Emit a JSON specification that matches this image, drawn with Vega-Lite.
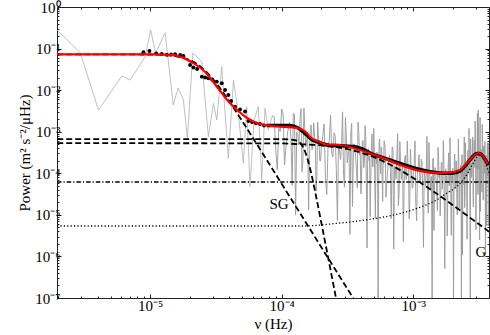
{
"$schema": "https://vega.github.io/schema/vega-lite/v6.json",
"width": 432, "height": 291,
"autosize": {"type": "none"},
"padding": {"left": 57, "top": 7, "right": 1, "bottom": 37},
"background": "white",
"config": {"view": {"stroke": "#222222", "strokeWidth": 1}, "font": "Liberation Serif"},
"datasets": {
"graylow": [
{"nu":1.96e-6,"p":0.28},{"nu":2.94e-6,"p":0.080},{"nu":4.05e-6,"p":3.33e-3},{"nu":6.10e-6,"p":0.0219},{"nu":7.05e-6,"p":0.0175},{"nu":9.16e-6,"p":0.0627},{"nu":1.01e-5,"p":0.28},{"nu":1.10e-5,"p":0.078},{"nu":1.30e-5,"p":0.241},{"nu":1.50e-5,"p":4.39e-3},{"nu":1.63e-5,"p":0.0113},{"nu":1.79e-5,"p":5.8e-3},{"nu":1.92e-5,"p":6.9e-4},{"nu":2.11e-5,"p":0.078},{"nu":2.47e-5,"p":0.0483},{"nu":2.77e-5,"p":7.6e-4},{"nu":3.03e-5,"p":4.8e-3},{"nu":3.21e-5,"p":1.91e-3},{"nu":3.50e-5,"p":0.0366},{"nu":3.93e-5,"p":2.29e-4},{"nu":4.30e-5,"p":0.0175},{"nu":4.68e-5,"p":2.77e-3},{"nu":5.11e-5,"p":1.74e-4},{"nu":5.42e-5,"p":4.0e-3},{"nu":5.74e-5,"p":4.75e-5},{"nu":6.16e-5,"p":1.91e-3},{"nu":6.64e-5,"p":4.0e-3},{"nu":7.05e-5,"p":6.9e-5},{"nu":7.46e-5,"p":3.66e-3},{"nu":7.91e-5,"p":1.1e-3},{"nu":8.5e-5,"p":2.43e-3}
],
"gray": [
{"nu":8.5e-5,"p":2.43e-3},{"nu":9.0e-5,"p":4.05e-4},{"nu":9.5e-5,"p":1.22e-3},{"nu":1.0e-4,"p":3.51e-3},{"nu":1.05e-4,"p":1.6e-4},{"nu":1.1e-4,"p":7.8e-4},{"nu":1.15e-4,"p":1.66e-3},{"nu":1.2e-4,"p":5.1e-5},{"nu":1.25e-4,"p":2.63e-3},{"nu":1.3e-4,"p":9.8e-4},{"nu":1.35e-4,"p":4.8e-4},{"nu":1.4e-4,"p":3.58e-3},{"nu":1.45e-4,"p":2.1e-4},{"nu":1.5e-4,"p":1.1e-3},{"nu":1.55e-4,"p":6.5e-4},{"nu":1.6e-4,"p":1.3e-5},{"nu":1.65e-4,"p":1.28e-3},{"nu":1.7e-4,"p":3.7e-4},{"nu":1.75e-4,"p":1.63e-3},{"nu":1.8e-4,"p":5.7e-4},{"nu":1.85e-4,"p":9.0e-5},{"nu":1.9e-4,"p":8.1e-4},{"nu":1.95e-4,"p":2.0e-4},{"nu":2.0e-4,"p":4.4e-4},
{"nu":2.1e-4,"p":1.54e-3},{"nu":2.2e-4,"p":3.1e-5},{"nu":2.3e-4,"p":6.1e-4},{"nu":2.4e-4,"p":3.0e-4},{"nu":2.5e-4,"p":9.4e-4},{"nu":2.6e-4,"p":1.23e-4},{"nu":2.7e-4,"p":4.6e-4},{"nu":2.8e-4,"p":2.16e-4},{"nu":2.9e-4,"p":3.0e-3},{"nu":3.0e-4,"p":4.6e-5},{"nu":3.1e-4,"p":6.75e-4},{"nu":3.2e-4,"p":3.1e-4},{"nu":3.3e-4,"p":3.4e-6},{"nu":3.4e-4,"p":1.6e-3},{"nu":3.5e-4,"p":2.2e-4},{"nu":3.6e-4,"p":3.9e-4},{"nu":3.7e-4,"p":1.14e-4},{"nu":3.8e-4,"p":1.7e-3},{"nu":3.9e-4,"p":2.74e-4},{"nu":4.0e-4,"p":3.2e-5},{"nu":4.1e-4,"p":5.95e-4},{"nu":4.2e-4,"p":1.36e-4},{"nu":4.3e-4,"p":1.4e-3},{"nu":4.4e-4,"p":5.9e-5},{"nu":4.5e-4,"p":3.36e-4},{"nu":4.6e-4,"p":2.0e-4},{"nu":4.7e-4,"p":9e-6},{"nu":4.8e-4,"p":4.0e-4},{"nu":4.9e-4,"p":1.45e-4},{"nu":5.0e-4,"p":1.2e-3},{"nu":5.1e-4,"p":6.0e-5},{"nu":5.2e-4,"p":2.3e-4},{"nu":5.3e-4,"p":3.25e-4},{"nu":5.4e-4,"p":8e-8},{"nu":5.5e-4,"p":5.75e-4},{"nu":5.6e-4,"p":1.47e-4},{"nu":5.7e-4,"p":4.3e-4},{"nu":5.8e-4,"p":7.0e-5},{"nu":5.9e-4,"p":2.07e-4},{"nu":6.0e-4,"p":6.0e-4},
{"nu":6.2e-4,"p":2.64e-5},{"nu":6.4e-4,"p":1.29e-4},{"nu":6.6e-4,"p":2.73e-4},{"nu":6.8e-4,"p":8.0e-6},{"nu":7.0e-4,"p":4.0e-4},{"nu":7.2e-4,"p":1.48e-4},{"nu":7.4e-4,"p":7.2e-5},{"nu":7.6e-4,"p":9.0e-4},{"nu":7.8e-4,"p":3.3e-5},{"nu":8.0e-4,"p":1.76e-4},{"nu":8.2e-4,"p":1.09e-4},{"nu":8.4e-4,"p":2.25e-6},{"nu":8.6e-4,"p":2.32e-4},{"nu":8.8e-4,"p":7.1e-5},{"nu":9.0e-4,"p":6.0e-4},{"nu":9.2e-4,"p":1.22e-4},{"nu":9.4e-4,"p":2.0e-5},{"nu":9.6e-4,"p":1.82e-4},{"nu":9.8e-4,"p":4.4e-5},{"nu":1.0e-3,"p":1.0e-4},
{"nu":1.03e-3,"p":6.0e-4},{"nu":1.06e-3,"p":7.2e-6},{"nu":1.09e-3,"p":1.44e-4},{"nu":1.12e-3,"p":6.9e-5},{"nu":1.15e-3,"p":2.19e-4},{"nu":1.18e-3,"p":2.75e-5},{"nu":1.21e-3,"p":1.05e-4},{"nu":1.24e-3,"p":4.95e-5},{"nu":1.27e-3,"p":7.7e-4},{"nu":1.30e-3,"p":1.1e-5},{"nu":1.33e-3,"p":1.58e-4},{"nu":1.36e-3,"p":7.35e-5},{"nu":1.39e-3,"p":8e-8},{"nu":1.42e-3,"p":2.31e-4},{"nu":1.45e-3,"p":5.8e-5},{"nu":1.48e-3,"p":1.05e-4},{"nu":1.51e-3,"p":3.15e-5},{"nu":1.54e-3,"p":4.2e-4},{"nu":1.57e-3,"p":7.9e-5},{"nu":1.60e-3,"p":9.5e-6},{"nu":1.63e-3,"p":1.73e-4},{"nu":1.66e-3,"p":4.1e-5},{"nu":1.69e-3,"p":6.1e-4},{"nu":1.72e-3,"p":1.84e-5},{"nu":1.75e-3,"p":1.07e-4},{"nu":1.78e-3,"p":6.6e-5},{"nu":1.81e-3,"p":3.1e-6},{"nu":1.84e-3,"p":1.38e-4},{"nu":1.87e-3,"p":5.1e-5},{"nu":1.90e-3,"p":7.1e-4},{"nu":1.93e-3,"p":2.3e-5},{"nu":1.96e-3,"p":8.9e-5},{"nu":1.99e-3,"p":1.31e-4},{"nu":2.02e-3,"p":5e-8},{"nu":2.05e-3,"p":2.4e-4},{"nu":2.08e-3,"p":6.7e-5},{"nu":2.11e-3,"p":2.0e-4},{"nu":2.14e-3,"p":3.4e-5},{"nu":2.17e-3,"p":1.0e-4},{"nu":2.20e-3,"p":6.7e-4},{"nu":2.23e-3,"p":1.44e-5},{"nu":2.26e-3,"p":7.2e-5},{"nu":2.29e-3,"p":1.56e-4},{"nu":2.32e-3,"p":9e-8},{"nu":2.35e-3,"p":2.8e-4},{"nu":2.38e-3,"p":1.08e-4},{"nu":2.41e-3,"p":5.4e-5},{"nu":2.44e-3,"p":7.5e-4},{"nu":2.47e-3,"p":3.0e-5},{"nu":2.50e-3,"p":1.65e-4},{"nu":2.53e-3,"p":1.22e-4},{"nu":2.56e-3,"p":2.6e-6},{"nu":2.59e-3,"p":2.8e-4},{"nu":2.62e-3,"p":1.0e-4},{"nu":2.65e-3,"p":1.2e-3},{"nu":2.68e-3,"p":1.8e-4},{"nu":2.71e-3,"p":8e-8},{"nu":2.74e-3,"p":3.2e-4},{"nu":2.77e-3,"p":8.0e-5},{"nu":2.80e-3,"p":1.84e-4},{"nu":2.83e-3,"p":7.5e-4},{"nu":2.86e-3,"p":1.56e-5},{"nu":2.89e-3,"p":3.1e-4},{"nu":2.92e-3,"p":1.56e-4},{"nu":2.95e-3,"p":1.8e-3},{"nu":2.98e-3,"p":7.3e-5},{"nu":3.01e-3,"p":2.75e-4},{"nu":3.04e-3,"p":1.3e-4},{"nu":3.07e-3,"p":2.8e-3},{"nu":3.10e-3,"p":3.1e-5},{"nu":3.13e-3,"p":4.65e-4},{"nu":3.16e-3,"p":2.2e-4},{"nu":3.19e-3,"p":2.5e-6},{"nu":3.22e-3,"p":2.2e-3},{"nu":3.25e-3,"p":1.6e-4},{"nu":3.28e-3,"p":2.9e-4},{"nu":3.31e-3,"p":8.7e-5},{"nu":3.34e-3,"p":1.5e-3},{"nu":3.37e-3,"p":1.9e-4},{"nu":3.40e-3,"p":2.25e-5},{"nu":3.43e-3,"p":4.25e-4},{"nu":3.46e-3,"p":1.0e-4},{"nu":3.49e-3,"p":5.9e-4},{"nu":3.52e-3,"p":4.0e-5},{"nu":3.55e-3,"p":2.3e-4},{"nu":3.58e-3,"p":1.43e-4},{"nu":3.61e-3,"p":5.4e-6},{"nu":3.64e-3,"p":2.4e-4},{"nu":3.67e-3,"p":9.0e-5},{"nu":3.70e-3,"p":5.4e-4},{"nu":3.73e-3,"p":4.0e-5},{"nu":3.76e-3,"p":2.0e-4},
{"nu":8.75e-5,"p":2.3e-3},{"nu":9.25e-5,"p":1.2e-4},{"nu":9.75e-5,"p":1.01e-3},{"nu":1.025e-4,"p":2.68e-3},{"nu":1.075e-4,"p":4.0e-4},{"nu":1.125e-4,"p":1.29e-3},{"nu":1.175e-4,"p":7.0e-4},{"nu":1.225e-4,"p":2.77e-3},{"nu":1.275e-4,"p":9.9e-6},{"nu":1.325e-4,"p":8.5e-4},{"nu":1.375e-4,"p":1.74e-3},{"nu":1.425e-4,"p":1.09e-4},{"nu":1.475e-4,"p":3.7e-3},{"nu":1.525e-4,"p":4.3e-4},{"nu":1.575e-4,"p":8.6e-4},{"nu":1.625e-4,"p":2.1e-4},{"nu":1.675e-4,"p":1.46e-3},{"nu":1.725e-4,"p":4.3e-4},{"nu":1.775e-4,"p":7.8e-4},{"nu":1.825e-4,"p":3.7e-5},{"nu":1.875e-4,"p":1.71e-3},{"nu":1.925e-4,"p":4.6e-4},{"nu":1.975e-4,"p":2.0e-4},
{"nu":2.05e-4,"p":7.6e-4},{"nu":2.15e-4,"p":7.9e-5},{"nu":2.25e-4,"p":4.6e-4},{"nu":2.35e-4,"p":2.5e-3},{"nu":2.45e-4,"p":2.5e-4},{"nu":2.55e-4,"p":7.9e-4},{"nu":2.65e-4,"p":7.3e-6},{"nu":2.75e-4,"p":3.4e-4},{"nu":2.85e-4,"p":5.2e-4},{"nu":2.95e-4,"p":9.3e-5},{"nu":3.05e-4,"p":2.2e-3},{"nu":3.15e-4,"p":1.78e-4},{"nu":3.25e-4,"p":3.5e-4},{"nu":3.35e-4,"p":8.9e-4},{"nu":3.45e-4,"p":1.6e-5},{"nu":3.55e-4,"p":5.1e-4},{"nu":3.65e-4,"p":2.3e-4},{"nu":3.75e-4,"p":4.5e-5},{"nu":3.85e-4,"p":9.5e-4},{"nu":3.95e-4,"p":3.3e-4},{"nu":4.05e-4,"p":1.07e-4},{"nu":4.15e-4,"p":6.2e-4},{"nu":4.25e-4,"p":2.0e-4},{"nu":4.35e-4,"p":7.6e-4},{"nu":4.45e-4,"p":1.6e-6},{"nu":4.55e-4,"p":3.9e-4},{"nu":4.65e-4,"p":2.6e-4},{"nu":4.75e-4,"p":6.5e-5},{"nu":4.85e-4,"p":8.8e-4},{"nu":4.95e-4,"p":1.43e-4},{"nu":5.05e-4,"p":3.7e-4},{"nu":5.15e-4,"p":8.2e-6},{"nu":5.25e-4,"p":1.72e-4},{"nu":5.35e-4,"p":2.7e-4},{"nu":5.45e-4,"p":4.5e-5},{"nu":5.55e-4,"p":6.7e-4},{"nu":5.65e-4,"p":9.7e-5},{"nu":5.75e-4,"p":4.0e-4},{"nu":5.85e-4,"p":2.1e-5},{"nu":5.95e-4,"p":1.73e-4},
{"nu":6.1e-4,"p":4.5e-4},{"nu":6.3e-4,"p":6.5e-5},{"nu":6.5e-4,"p":2.12e-4},{"nu":6.7e-4,"p":1.13e-4},{"nu":6.9e-4,"p":4.3e-4},{"nu":7.1e-4,"p":1.5e-6},{"nu":7.3e-4,"p":1.27e-4},{"nu":7.5e-4,"p":2.6e-4},{"nu":7.7e-4,"p":1.67e-5},{"nu":7.9e-4,"p":5.8e-4},{"nu":8.1e-4,"p":7.1e-5},{"nu":8.3e-4,"p":1.44e-4},{"nu":8.5e-4,"p":3.7e-5},{"nu":8.7e-4,"p":2.7e-4},{"nu":8.9e-4,"p":8.5e-5},{"nu":9.1e-4,"p":1.64e-4},{"nu":9.3e-4,"p":8.0e-6},{"nu":9.5e-4,"p":3.8e-4},{"nu":9.7e-4,"p":1.02e-4},{"nu":9.9e-4,"p":4.4e-5},
{"nu":1.015e-3,"p":1.68e-4},{"nu":1.045e-3,"p":1.8e-5},{"nu":1.075e-3,"p":1.08e-4},{"nu":1.105e-3,"p":2.8e-4},{"nu":1.135e-3,"p":5.75e-5},{"nu":1.165e-3,"p":1.81e-4},{"nu":1.195e-3,"p":1.65e-6},{"nu":1.225e-3,"p":7.7e-5},{"nu":1.255e-3,"p":1.21e-4},{"nu":1.285e-3,"p":2.2e-5},{"nu":1.315e-3,"p":5.5e-4},{"nu":1.345e-3,"p":4.2e-5},{"nu":1.375e-3,"p":8.4e-5},{"nu":1.405e-3,"p":2.2e-4},{"nu":1.435e-3,"p":4.2e-6},{"nu":1.465e-3,"p":1.37e-4},{"nu":1.495e-3,"p":6.3e-5},{"nu":1.525e-3,"p":1.26e-5},{"nu":1.555e-3,"p":2.7e-4},{"nu":1.585e-3,"p":9.5e-5},{"nu":1.615e-3,"p":3.1e-5},{"nu":1.645e-3,"p":1.84e-4},{"nu":1.675e-3,"p":6.1e-5},{"nu":1.705e-3,"p":2.35e-4},{"nu":1.735e-3,"p":5.1e-7},{"nu":1.765e-3,"p":1.28e-4},{"nu":1.795e-3,"p":8.7e-5},{"nu":1.825e-3,"p":2.2e-5},{"nu":1.855e-3,"p":3.1e-4},{"nu":1.885e-3,"p":5.1e-5},{"nu":1.915e-3,"p":1.39e-4},{"nu":1.945e-3,"p":3.2e-6},{"nu":1.975e-3,"p":6.8e-5},{"nu":2.005e-3,"p":1.1e-4},{"nu":2.035e-3,"p":1.9e-5},{"nu":2.065e-3,"p":2.9e-4},{"nu":2.095e-3,"p":4.5e-5},{"nu":2.125e-3,"p":1.9e-4},{"nu":2.155e-3,"p":1.0e-5},{"nu":2.185e-3,"p":8.4e-5},{"nu":2.215e-3,"p":2.3e-4},{"nu":2.245e-3,"p":3.6e-5},{"nu":2.275e-3,"p":1.2e-4},{"nu":2.305e-3,"p":6.6e-5},{"nu":2.335e-3,"p":2.8e-4},{"nu":2.365e-3,"p":1.1e-6},{"nu":2.395e-3,"p":9.5e-5},{"nu":2.425e-3,"p":2.1e-4},{"nu":2.455e-3,"p":1.5e-5},{"nu":2.485e-3,"p":5.4e-4},{"nu":2.515e-3,"p":7.3e-5},{"nu":2.545e-3,"p":1.66e-4},{"nu":2.575e-3,"p":4.4e-5},{"nu":2.605e-3,"p":3.6e-4},{"nu":2.635e-3,"p":1.2e-4},{"nu":2.665e-3,"p":2.4e-4},{"nu":2.695e-3,"p":1.3e-5},{"nu":2.725e-3,"p":6.7e-4},{"nu":2.755e-3,"p":1.84e-4},{"nu":2.785e-3,"p":8.0e-5},{"nu":2.815e-3,"p":3.4e-4},{"nu":2.845e-3,"p":3.9e-5},{"nu":2.875e-3,"p":2.3e-4},{"nu":2.905e-3,"p":6.2e-4},{"nu":2.935e-3,"p":1.38e-4},{"nu":2.965e-3,"p":4.6e-4},{"nu":2.995e-3,"p":4.4e-6},{"nu":3.025e-3,"p":2.0e-4},{"nu":3.055e-3,"p":3.3e-4},{"nu":3.085e-3,"p":6.2e-5},{"nu":3.115e-3,"p":3.3e-3},{"nu":3.145e-3,"p":1.24e-4},{"nu":3.175e-3,"p":2.5e-4},{"nu":3.205e-3,"p":6.5e-4},{"nu":3.235e-3,"p":1.2e-5},{"nu":3.265e-3,"p":3.8e-4},{"nu":3.295e-3,"p":1.74e-4},{"nu":3.325e-3,"p":3.5e-5},{"nu":3.355e-3,"p":7.0e-4},{"nu":3.385e-3,"p":2.25e-4},{"nu":3.415e-3,"p":7.5e-5},{"nu":3.445e-3,"p":4.5e-4},{"nu":3.475e-3,"p":1.41e-4},{"nu":3.505e-3,"p":5.1e-4},{"nu":3.535e-3,"p":1.1e-6},{"nu":3.565e-3,"p":2.75e-4},{"nu":3.595e-3,"p":1.7e-4},{"nu":3.625e-3,"p":4.0e-5},{"nu":3.655e-3,"p":5.4e-4},{"nu":3.685e-3,"p":9.0e-5},{"nu":3.715e-3,"p":2.4e-4},{"nu":3.745e-3,"p":5.4e-6}
],
"white": [{"nu":1.96e-6,"p":6.2e-5},{"nu":3.76e-3,"p":6.2e-5}],
"dotted": [{"nu":1.96e-6,"p":5.39e-6},{"nu":1.451e-4,"p":5.39e-6},{"nu":2.63e-4,"p":6.26e-6},{"nu":4.682e-4,"p":7.81e-6},{"nu":8.34e-4,"p":1.126e-5},{"nu":1.122e-3,"p":1.519e-5},{"nu":1.503e-3,"p":2.28e-5},{"nu":1.79e-3,"p":3.3e-5},{"nu":2.133e-3,"p":4.75e-5},{"nu":2.54e-3,"p":9.09e-5},{"nu":2.85e-3,"p":1.74e-4},{"nu":3.149e-3,"p":2.68e-4},{"nu":3.378e-3,"p":2.46e-4},{"nu":3.622e-3,"p":1.42e-4},{"nu":3.782e-3,"p":9.61e-5}],
"sg": [{"nu":1.968e-6,"p":0.0728},{"nu":1e-5,"p":0.0720},{"nu":1.259e-5,"p":0.0702},{"nu":1.585e-5,"p":0.0652},{"nu":1.995e-5,"p":0.0529},{"nu":2.239e-5,"p":0.0435},{"nu":2.512e-5,"p":0.0330},{"nu":2.818e-5,"p":0.0231},{"nu":3.162e-5,"p":0.01498},{"nu":3.548e-5,"p":0.00919},{"nu":3.981e-5,"p":0.00543},{"nu":4.467e-5,"p":0.00314},{"nu":5.012e-5,"p":1.79e-3},{"nu":6.31e-5,"p":5.69e-4},{"nu":1e-4,"p":5.56e-5},{"nu":1.585e-4,"p":5.41e-6},{"nu":2.512e-4,"p":5.26e-7},{"nu":3.981e-4,"p":5.12e-8}],
"h1": [{"nu":1.968e-6,"p":6.6e-4},{"nu":1e-4,"p":6.6e-4},{"nu":1.259e-4,"p":6.27e-4},{"nu":1.334e-4,"p":5.81e-4},{"nu":1.413e-4,"p":4.90e-4},{"nu":1.496e-4,"p":3.49e-4},{"nu":1.585e-4,"p":2.01e-4},{"nu":1.679e-4,"p":9.67e-5},{"nu":1.778e-4,"p":4.15e-5},{"nu":1.995e-4,"p":6.71e-6},{"nu":2.239e-4,"p":1.04e-6},{"nu":2.512e-4,"p":1.59e-7},{"nu":2.818e-4,"p":2.43e-8}],
"g": [{"nu":1.968e-6,"p":5.3e-4},{"nu":1e-4,"p":5.24e-4},{"nu":1.259e-4,"p":5.07e-4},{"nu":1.995e-4,"p":4.67e-4},{"nu":3.162e-4,"p":3.80e-4},{"nu":5.012e-4,"p":2.45e-4},{"nu":6.31e-4,"p":1.77e-4},{"nu":7.943e-4,"p":1.19e-4},{"nu":1e-3,"p":7.67e-5},{"nu":1.259e-3,"p":4.75e-5},{"nu":1.585e-3,"p":2.88e-5},{"nu":1.995e-3,"p":1.71e-5},{"nu":2.512e-3,"p":1.01e-5},{"nu":3.162e-3,"p":5.93e-6},{"nu":3.802e-3,"p":3.86e-6}],
"dots": [{"nu":8.89e-6,"p":0.0813},{"nu":9.88e-6,"p":0.0874},{"nu":1.111e-5,"p":0.0769},{"nu":1.227e-5,"p":0.0740},{"nu":1.339e-5,"p":0.0712},{"nu":1.444e-5,"p":0.0720},{"nu":1.548e-5,"p":0.0728},{"nu":1.69e-5,"p":0.0700},{"nu":1.789e-5,"p":0.0663},{"nu":2.012e-5,"p":0.0402},{"nu":2.132e-5,"p":0.0350},{"nu":2.275e-5,"p":0.0323},{"nu":2.47e-5,"p":0.0211},{"nu":2.616e-5,"p":0.0201},{"nu":2.771e-5,"p":0.0193},{"nu":2.957e-5,"p":0.0180},{"nu":3.21e-5,"p":0.0160},{"nu":3.503e-5,"p":0.0146},{"nu":3.711e-5,"p":0.0101},{"nu":3.931e-5,"p":0.00764},{"nu":4.121e-5,"p":0.00548},{"nu":4.419e-5,"p":0.00400},{"nu":4.824e-5,"p":0.00342},{"nu":5.263e-5,"p":0.00306},{"nu":5.576e-5,"p":0.00181},{"nu":5.95e-5,"p":0.00171},{"nu":6.38e-5,"p":0.00159},{"nu":6.843e-5,"p":0.00153},{"nu":7.337e-5,"p":0.00141}],
"smooth": [{"nu":7.69e-5,"p":1.41e-3},{"nu":8.59e-5,"p":1.41e-3},{"nu":9.71e-5,"p":1.41e-3},{"nu":1.156e-4,"p":1.41e-3},{"nu":1.33e-4,"p":1.228e-3},{"nu":1.451e-4,"p":1.0e-3},{"nu":1.548e-4,"p":8.33e-4},{"nu":1.738e-4,"p":6.14e-4},{"nu":1.886e-4,"p":5.65e-4},{"nu":2.07e-4,"p":5.06e-4},{"nu":2.327e-4,"p":4.66e-4},{"nu":2.63e-4,"p":4.66e-4},{"nu":3.024e-4,"p":4.53e-4},{"nu":3.497e-4,"p":4.41e-4},{"nu":4.071e-4,"p":3.84e-4},{"nu":4.682e-4,"p":3.07e-4},{"nu":5.577e-4,"p":2.51e-4},{"nu":6.643e-4,"p":2.09e-4},{"nu":7.912e-4,"p":1.72e-4},{"nu":9.424e-4,"p":1.44e-4},{"nu":1.122e-3,"p":1.23e-4},{"nu":1.337e-3,"p":1.09e-4},{"nu":1.592e-3,"p":1.015e-4},{"nu":1.897e-3,"p":9.99e-5},{"nu":2.106e-3,"p":1.04e-4},{"nu":2.327e-3,"p":1.20e-4},{"nu":2.508e-3,"p":1.58e-4},{"nu":2.691e-3,"p":2.09e-4},{"nu":2.884e-3,"p":2.68e-4},{"nu":3.04e-3,"p":2.99e-4},{"nu":3.204e-3,"p":2.99e-4},{"nu":3.395e-3,"p":2.51e-4},{"nu":3.557e-3,"p":2.03e-4},{"nu":3.716e-3,"p":1.58e-4}],
"red": [{"nu":1.96e-6,"p":0.0728},{"nu":4.17e-6,"p":0.0728},{"nu":1.0e-5,"p":0.0722},{"nu":1.42e-5,"p":0.0705},{"nu":1.69e-5,"p":0.0640},{"nu":2.12e-5,"p":0.0450},{"nu":2.62e-5,"p":0.0273},{"nu":3.23e-5,"p":0.0119},{"nu":3.85e-5,"p":0.00579},{"nu":4.58e-5,"p":0.00333},{"nu":5.46e-5,"p":0.00214},{"nu":6.49e-5,"p":0.00162},{"nu":8.59e-5,"p":0.00137},{"nu":1.306e-4,"p":0.00123},{"nu":1.556e-4,"p":9.31e-4},{"nu":1.64e-4,"p":7.46e-4},{"nu":1.954e-4,"p":5.65e-4},{"nu":2.17e-4,"p":4.92e-4},{"nu":2.77e-4,"p":4.79e-4},{"nu":3.94e-4,"p":3.63e-4},{"nu":5.87e-4,"p":2.33e-4},{"nu":8.34e-4,"p":1.50e-4},{"nu":1.268e-3,"p":1.07e-4},{"nu":1.80e-3,"p":1.02e-4},{"nu":2.26e-3,"p":1.20e-4},{"nu":2.55e-3,"p":1.77e-4},{"nu":3.15e-3,"p":3.08e-4},{"nu":3.68e-3,"p":1.67e-4}],
"labels": [{"nu":9.54e-5,"p":1.82e-5,"t":"SG"},{"nu":3.26e-3,"p":1.28e-6,"t":"G"}]
},
"encoding": {
"x": {"field":"nu","type":"quantitative","scale":{"type":"log","domain":[1.96e-6,3.76e-3],"nice":false},"axis":null},
"y": {"field":"p","type":"quantitative","scale":{"type":"log","domain":[1e-7,1],"nice":false},"axis":null}
},
"layer": [
{"data":{"name":"graylow"},"mark":{"type":"line","color":"#b0b0b0","strokeWidth":0.8,"clip":true},
 "encoding":{
  "x":{"field":"nu","type":"quantitative","scale":{"type":"log","domain":[1.96e-6,3.76e-3],"nice":false},
   "axis":{"orient":"bottom","values":[2e-6,3e-6,4e-6,5e-6,6e-6,7e-6,8e-6,9e-6,1e-5,2e-5,3e-5,4e-5,5e-5,6e-5,7e-5,8e-5,9e-5,1e-4,2e-4,3e-4,4e-4,5e-4,6e-4,7e-4,8e-4,9e-4,1e-3,2e-3,3e-3],
    "tickSize":{"condition":{"test":"abs(log(datum.value)/LN10 - round(log(datum.value)/LN10)) < 0.001","value":-4},"value":-2},
    "tickColor":"#222222","tickWidth":1,"domain":false,"grid":false,
    "labelExpr":"(abs(log(datum.value)/LN10 - round(log(datum.value)/LN10)) < 0.001) ? ('10' + (round(log(datum.value)/LN10) < 0 ? '⁻' : '') + substring('⁰¹²³⁴⁵⁶⁷⁸⁹', abs(round(log(datum.value)/LN10)), abs(round(log(datum.value)/LN10)) + 1)) : ''",
    "labelFont":"Liberation Serif","labelFontSize":15,"labelColor":"black","labelPadding":4,"labelOverlap":false,"labelFlush":false,
    "title":"ν (Hz)","titleFont":"Liberation Serif","titleFontSize":15,"titleFontWeight":"normal","titleColor":"black","titlePadding":1}},
  "y":{"field":"p","type":"quantitative","scale":{"type":"log","domain":[1e-7,1],"nice":false},
   "axis":{"orient":"left","values":[1e-7,2e-7,3e-7,4e-7,5e-7,6e-7,7e-7,8e-7,9e-7,1e-6,2e-6,3e-6,4e-6,5e-6,6e-6,7e-6,8e-6,9e-6,1e-5,2e-5,3e-5,4e-5,5e-5,6e-5,7e-5,8e-5,9e-5,1e-4,2e-4,3e-4,4e-4,5e-4,6e-4,7e-4,8e-4,9e-4,1e-3,2e-3,3e-3,4e-3,5e-3,6e-3,7e-3,8e-3,9e-3,1e-2,2e-2,3e-2,4e-2,5e-2,6e-2,7e-2,8e-2,9e-2,0.1,0.2,0.3,0.4,0.5,0.6,0.7,0.8,0.9,1],
    "tickSize":{"condition":{"test":"abs(log(datum.value)/LN10 - round(log(datum.value)/LN10)) < 0.001","value":-4},"value":-2},
    "tickColor":"#222222","tickWidth":1,"domain":false,"grid":false,
    "labelExpr":"(abs(log(datum.value)/LN10 - round(log(datum.value)/LN10)) < 0.001) ? ('10' + (round(log(datum.value)/LN10) < 0 ? '⁻' : '') + substring('⁰¹²³⁴⁵⁶⁷⁸⁹', abs(round(log(datum.value)/LN10)), abs(round(log(datum.value)/LN10)) + 1)) : ''",
    "labelFont":"Liberation Serif","labelFontSize":15,"labelColor":"black","labelPadding":1,"labelOverlap":false,"labelFlush":false,
    "title":"Power (m² s⁻²/μHz)","titleFont":"Liberation Serif","titleFontSize":15,"titleFontWeight":"normal","titleColor":"black","titlePadding":2}}
 }},
{"data":{"name":"gray"},"mark":{"type":"line","color":"#9c9c9c","strokeWidth":0.95,"clip":true},
 "encoding":{
  "x":{"field":"nu","type":"quantitative","scale":{"type":"log","domain":[1.96e-6,3.76e-3],"nice":false},
   "axis":{"orient":"top","values":[2e-6,3e-6,4e-6,5e-6,6e-6,7e-6,8e-6,9e-6,1e-5,2e-5,3e-5,4e-5,5e-5,6e-5,7e-5,8e-5,9e-5,1e-4,2e-4,3e-4,4e-4,5e-4,6e-4,7e-4,8e-4,9e-4,1e-3,2e-3,3e-3],
    "tickSize":{"condition":{"test":"abs(log(datum.value)/LN10 - round(log(datum.value)/LN10)) < 0.001","value":-4},"value":-2},
    "tickColor":"#222222","tickWidth":1,"domain":false,"grid":false,"labels":false,"title":null}},
  "y":{"field":"p","type":"quantitative","scale":{"type":"log","domain":[1e-7,1],"nice":false},
   "axis":{"orient":"right","values":[1e-7,2e-7,3e-7,4e-7,5e-7,6e-7,7e-7,8e-7,9e-7,1e-6,2e-6,3e-6,4e-6,5e-6,6e-6,7e-6,8e-6,9e-6,1e-5,2e-5,3e-5,4e-5,5e-5,6e-5,7e-5,8e-5,9e-5,1e-4,2e-4,3e-4,4e-4,5e-4,6e-4,7e-4,8e-4,9e-4,1e-3,2e-3,3e-3,4e-3,5e-3,6e-3,7e-3,8e-3,9e-3,1e-2,2e-2,3e-2,4e-2,5e-2,6e-2,7e-2,8e-2,9e-2,0.1,0.2,0.3,0.4,0.5,0.6,0.7,0.8,0.9,1],
    "tickSize":{"condition":{"test":"abs(log(datum.value)/LN10 - round(log(datum.value)/LN10)) < 0.001","value":-4},"value":-2},
    "tickColor":"#222222","tickWidth":1,"domain":false,"grid":false,"labels":false,"title":null}}
 }},
{"data":{"name":"white"},"mark":{"type":"line","color":"black","strokeWidth":1.5,"strokeDash":[4.5,2,1.2,2],"clip":true}},
{"data":{"name":"dotted"},"mark":{"type":"line","color":"black","strokeWidth":1.3,"strokeDash":[1.2,2.2],"interpolate":"monotone","clip":true}},
{"data":{"name":"sg"},"mark":{"type":"line","color":"black","strokeWidth":1.8,"strokeDash":[6,3],"interpolate":"monotone","clip":true}},
{"data":{"name":"h1"},"mark":{"type":"line","color":"black","strokeWidth":1.8,"strokeDash":[6,3],"interpolate":"monotone","clip":true}},
{"data":{"name":"g"},"mark":{"type":"line","color":"black","strokeWidth":1.8,"strokeDash":[6,3],"interpolate":"monotone","clip":true}},
{"data":{"name":"dots"},"mark":{"type":"circle","color":"black","size":15,"opacity":1,"clip":true}},
{"data":{"name":"smooth"},"mark":{"type":"line","color":"black","strokeWidth":3.5,"interpolate":"monotone","clip":true}},
{"data":{"name":"red"},"mark":{"type":"line","color":"#ff0000","strokeWidth":2.2,"interpolate":"monotone","clip":true}},
{"data":{"name":"labels"},"mark":{"type":"text","font":"Liberation Serif","fontSize":15,"color":"black","align":"center","baseline":"middle"},"encoding":{"text":{"field":"t","type":"nominal"}}}
],
"resolve": {"axis": {"x": "independent", "y": "independent"}}
}
